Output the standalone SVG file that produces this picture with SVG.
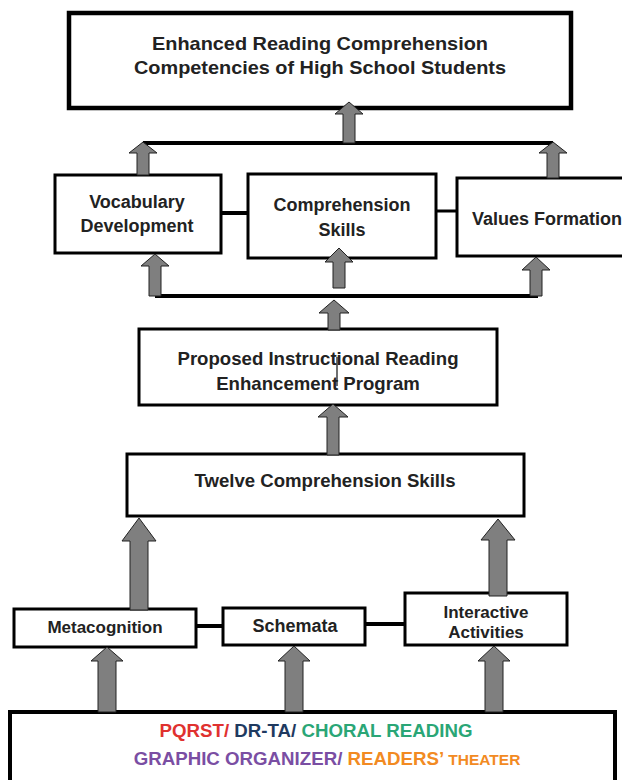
<svg xmlns="http://www.w3.org/2000/svg" width="622" height="780" viewBox="0 0 622 780">
<style>
.box{fill:#fff;stroke:#000;stroke-width:3}
.t{font-family:"Liberation Sans",Arial,sans-serif;font-weight:bold;fill:#222;text-anchor:middle}
.arr{fill:#7f7f7f;stroke:#222;stroke-width:1}
.ln{stroke:#000;stroke-width:4;fill:none}
</style>
<rect width="622" height="780" fill="#fff"/>
<g id="outcome">
<rect class="box" x="69" y="13" width="502" height="95" style="stroke-width:4.5"/>
<text class="t" x="320" y="50" font-size="18.5" textLength="336" lengthAdjust="spacingAndGlyphs">Enhanced Reading Comprehension</text>
<text class="t" x="320" y="74" font-size="18.5" textLength="372" lengthAdjust="spacingAndGlyphs">Competencies of High School Students</text>
</g>
<g id="vocabulary">
<rect class="box" x="55" y="175" width="166" height="78"/>
<text class="t" x="137" y="208" font-size="18">Vocabulary</text>
<text class="t" x="137" y="232" font-size="18">Development</text>
</g>
<g id="comprehension">
<rect class="box" x="248" y="174" width="188" height="84"/>
<text class="t" x="342" y="211" font-size="18">Comprehension</text>
<text class="t" x="342" y="236" font-size="18">Skills</text>
</g>
<g id="values">
<rect class="box" x="457" y="178" width="180" height="78"/>
<text class="t" x="472" y="225" font-size="18" style="text-anchor:start">Values Formation</text>
</g>
<g id="program">
<rect class="box" x="139" y="329" width="358" height="76"/>
<text class="t" x="318" y="365" font-size="18.6">Proposed Instructional Reading</text>
<text class="t" x="318" y="390" font-size="18.6">Enhancement Program</text>
</g>
<g id="twelve">
<rect class="box" x="127" y="454" width="397" height="62"/>
<text class="t" x="325" y="487" font-size="18.6">Twelve Comprehension Skills</text>
</g>
<g id="metacognition">
<rect class="box" x="14" y="609" width="182" height="38"/>
<text class="t" x="105" y="633" font-size="17">Metacognition</text>
</g>
<g id="schemata">
<rect class="box" x="223" y="608" width="142" height="37"/>
<text class="t" x="295" y="632" font-size="18">Schemata</text>
</g>
<g id="interactive">
<rect class="box" x="405" y="593" width="162" height="52"/>
<text class="t" x="486" y="618" font-size="17">Interactive</text>
<text class="t" x="486" y="638" font-size="17">Activities</text>
</g>
<g id="strategies">
<rect class="box" x="10" y="712" width="605" height="80" style="stroke-width:4"/>
<text class="t" x="316" y="737" font-size="18.7"><tspan fill="#e0312f">PQRST/</tspan> <tspan fill="#1f3a60">DR-TA/</tspan> <tspan fill="#2aa676">CHORAL READING</tspan></text>
<text class="t" x="327" y="765" font-size="18.7"><tspan fill="#7a4ea3">GRAPHIC ORGANIZER/</tspan> <tspan fill="#f28a22">READERS’</tspan> <tspan fill="#f28a22" font-size="15.5">THEATER</tspan></text>
</g>
<g id="connectors">
<line class="ln" x1="143" y1="143" x2="553" y2="143"/>
<line class="ln" x1="155" y1="296" x2="538" y2="296"/>
<line class="ln" x1="221" y1="213" x2="248" y2="213"/>
<line class="ln" x1="436" y1="211" x2="457" y2="211" style="stroke-width:3"/>
<line class="ln" x1="196" y1="626" x2="223" y2="626"/>
<line class="ln" x1="365" y1="624" x2="405" y2="624"/>
<line x1="337" y1="357" x2="337" y2="386" stroke="#222" stroke-width="1.3"/>
<polygon class="arr" points="349,102 363,114 355,114 355,143 343,143 343,114 335,114"/>
<polygon class="arr" points="143,142 157,153 149,153 149,175 137,175 137,153 129,153"/>
<polygon class="arr" points="553,142 567,153 559,153 559,178 547,178 547,153 539,153"/>
<polygon class="arr" points="155,254 169,266 161,266 161,296 149,296 149,266 141,266"/>
<polygon class="arr" points="339,248 353,262 345,262 345,288 333,288 333,262 325,262"/>
<polygon class="arr" points="536,257 550,270 542,270 542,296 530,296 530,270 522,270"/>
<polygon class="arr" points="334,300 349,313 340,313 340,330 328,330 328,313 319,313"/>
<polygon class="arr" points="333,404 348,417 339,417 339,455 327,455 327,417 318,417"/>
<polygon class="arr" points="139,518 156,541 148,541 148,610 130,610 130,541 122,541"/>
<polygon class="arr" points="498,519 515,540 507,540 507,596 489,596 489,540 481,540"/>
<polygon class="arr" points="107,647 123,661 116,661 116,712 98,712 98,661 91,661"/>
<polygon class="arr" points="294,646 310,661 303,661 303,712 285,712 285,661 278,661"/>
<polygon class="arr" points="494,646 510,661 503,661 503,712 485,712 485,661 478,661"/>
</g>
</svg>
